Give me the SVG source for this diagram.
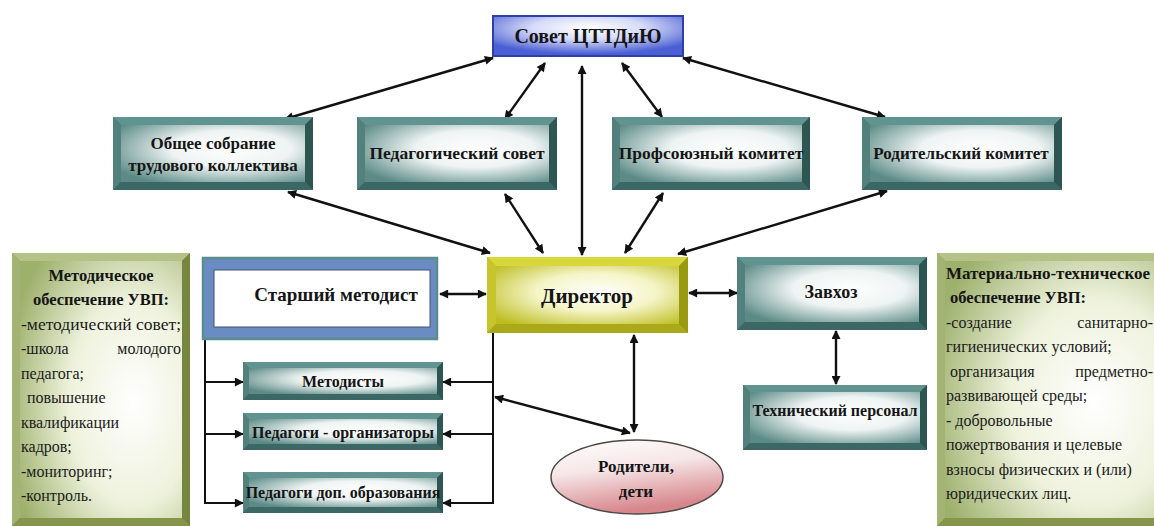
<svg xmlns="http://www.w3.org/2000/svg" width="1154" height="526" viewBox="0 0 1154 526" font-family="Liberation Serif, Tinos, DejaVu Serif, serif">
  <defs>
    <radialGradient id="gTeal" cx="60%" cy="42%" r="72%">
      <stop offset="0" stop-color="#ffffff"/>
      <stop offset="0.45" stop-color="#eef4f3"/>
      <stop offset="1" stop-color="#5c8b87"/>
    </radialGradient>
    <radialGradient id="gYellow" cx="55%" cy="45%" r="72%">
      <stop offset="0" stop-color="#ffffff"/>
      <stop offset="0.45" stop-color="#f5f5c8"/>
      <stop offset="1" stop-color="#bcbc1e"/>
    </radialGradient>
    <radialGradient id="gOlive" cx="70%" cy="55%" r="80%">
      <stop offset="0" stop-color="#ffffff"/>
      <stop offset="0.5" stop-color="#eef2dc"/>
      <stop offset="1" stop-color="#9db06c"/>
    </radialGradient>
    <radialGradient id="gBlue" cx="50%" cy="30%" r="65%">
      <stop offset="0" stop-color="#ffffff"/>
      <stop offset="0.45" stop-color="#d6dbf8"/>
      <stop offset="1" stop-color="#4a5fd4"/>
    </radialGradient>
    <linearGradient id="gPink" x1="0" y1="0" x2="0.3" y2="1">
      <stop offset="0" stop-color="#ffffff"/>
      <stop offset="0.45" stop-color="#f6e6e7"/>
      <stop offset="1" stop-color="#d7868c"/>
    </linearGradient>
    <marker id="ah" viewBox="0 0 10 10" refX="9" refY="5" markerWidth="11" markerHeight="9" markerUnits="userSpaceOnUse" orient="auto-start-reverse">
      <path d="M0,0 L10,5 L0,10 z" fill="#111"/>
    </marker>
  </defs>
  <style>
    .t-top{fill:#619490}.t-left{fill:#52807c}.t-right{fill:#2d5653}.t-bot{fill:#3b6764}.t-in{fill:url(#gTeal)}
    .y-top{fill:#d8d83c}.y-left{fill:#c6c62c}.y-right{fill:#9a9a10}.y-bot{fill:#a9a91a}.y-in{fill:url(#gYellow)}
    .o-top{fill:#b4c287}.o-left{fill:#a3b373}.o-right{fill:#76863e}.o-bot{fill:#85954c}.o-in{fill:url(#gOlive)}
    .lbl{font-weight:bold;fill:#151515;text-anchor:middle}
    .txt{fill:#1a1a1a;font-size:16px}
    .hd{font-weight:bold;fill:#151515;font-size:16.5px;text-anchor:middle}
    .arr{stroke:#111;stroke-width:2.4;fill:none;marker-start:url(#ah);marker-end:url(#ah)}
    .one{stroke:#111;stroke-width:2;fill:none;marker-end:url(#ah)}
    .ln{stroke:#111;stroke-width:2;fill:none}
  </style>
  <rect x="0" y="0" width="1154" height="526" fill="#ffffff"/>

  <g id="connectors">
    <line class="arr" x1="493" y1="58" x2="285" y2="119"/>
    <line class="arr" x1="545" y1="63" x2="505" y2="119"/>
    <line class="arr" x1="582" y1="66" x2="582" y2="255"/>
    <line class="arr" x1="622" y1="63" x2="662" y2="117"/>
    <line class="arr" x1="683" y1="58" x2="885" y2="117"/>
    <line class="arr" x1="288" y1="192" x2="490" y2="253"/>
    <line class="arr" x1="505" y1="194" x2="543" y2="253"/>
    <line class="arr" x1="663" y1="193" x2="625" y2="253"/>
    <line class="arr" x1="887" y1="191" x2="678" y2="254"/>
    <line class="arr" x1="440" y1="294" x2="486" y2="294"/>
    <line class="arr" x1="689" y1="293" x2="737" y2="293"/>
    <line class="arr" x1="836" y1="331" x2="836" y2="384"/>
    <line class="arr" x1="634" y1="335" x2="634" y2="432"/>
    <line class="arr" x1="495" y1="397" x2="630" y2="433"/>
    <polyline class="ln" points="205,340 205,503"/>
    <line class="one" x1="204" y1="382" x2="243" y2="382"/>
    <line class="one" x1="204" y1="434" x2="243" y2="434"/>
    <line class="one" x1="204" y1="503" x2="243" y2="503"/>
    <polyline class="ln" points="493,333 493,503"/>
    <line class="one" x1="494" y1="382" x2="443" y2="382"/>
    <line class="one" x1="494" y1="434" x2="443" y2="434"/>
    <line class="one" x1="494" y1="503" x2="443" y2="503"/>
  </g>

  <g id="sovet">
    <rect x="493" y="16" width="190" height="40" fill="url(#gBlue)" stroke="#2c40a8" stroke-width="2"/>
    <text class="lbl" x="588" y="43" font-size="20">Совет ЦТТДиЮ</text>
  </g>

  <g id="obshee">
    <rect x="113" y="117" width="200" height="73" fill="#3b6764"/>
    <polygon class="t-top" points="113,117 313,117 305,125 121,125"/>
    <polygon class="t-left" points="113,117 121,125 121,182 113,190"/>
    <polygon class="t-right" points="313,117 313,190 305,182 305,125"/>
    <polygon class="t-bot" points="113,190 121,182 305,182 313,190"/>
    <rect class="t-in" x="121" y="125" width="184" height="57"/>
    <text class="lbl" x="213" y="149" font-size="17">Общее собрание</text>
    <text class="lbl" x="213" y="171" font-size="17">трудового коллектива</text>
  </g>

  <g id="pedsovet">
    <rect x="357" y="117" width="200" height="73" fill="#3b6764"/>
    <polygon class="t-top" points="357,117 557,117 549,125 365,125"/>
    <polygon class="t-left" points="357,117 365,125 365,182 357,190"/>
    <polygon class="t-right" points="557,117 557,190 549,182 549,125"/>
    <polygon class="t-bot" points="357,190 365,182 549,182 557,190"/>
    <rect class="t-in" x="365" y="125" width="184" height="57"/>
    <text class="lbl" x="457" y="159" font-size="17.5">Педагогический совет</text>
  </g>

  <g id="profkom">
    <rect x="612" y="117" width="198" height="73" fill="#3b6764"/>
    <polygon class="t-top" points="612,117 810,117 802,125 620,125"/>
    <polygon class="t-left" points="612,117 620,125 620,182 612,190"/>
    <polygon class="t-right" points="810,117 810,190 802,182 802,125"/>
    <polygon class="t-bot" points="612,190 620,182 802,182 810,190"/>
    <rect class="t-in" x="620" y="125" width="182" height="57"/>
    <text class="lbl" x="711" y="159" font-size="17.5">Профсоюзный комитет</text>
  </g>

  <g id="rodkom">
    <rect x="862" y="117" width="200" height="73" fill="#3b6764"/>
    <polygon class="t-top" points="862,117 1062,117 1054,125 870,125"/>
    <polygon class="t-left" points="862,117 870,125 870,182 862,190"/>
    <polygon class="t-right" points="1062,117 1062,190 1054,182 1054,125"/>
    <polygon class="t-bot" points="862,190 870,182 1054,182 1062,190"/>
    <rect class="t-in" x="870" y="125" width="184" height="57"/>
    <text class="lbl" x="961" y="159" font-size="17">Родительский комитет</text>
  </g>

  <g id="st-metodist">
    <rect x="203" y="258" width="234" height="81" fill="#6b8cc2" stroke="#5b8d8b" stroke-width="2.5"/>
    <rect x="214" y="270" width="216" height="57" fill="#ffffff" stroke="#3d5577" stroke-width="1"/>
    <text class="lbl" x="336" y="301" font-size="19">Старший методист</text>
  </g>

  <g id="direktor">
    <rect x="487" y="257" width="201" height="76" fill="#a9a91a"/>
    <polygon class="y-top" points="487,257 688,257 679,266 496,266"/>
    <polygon class="y-left" points="487,257 496,266 496,324 487,333"/>
    <polygon class="y-right" points="688,257 688,333 679,324 679,266"/>
    <polygon class="y-bot" points="487,333 496,324 679,324 688,333"/>
    <rect class="y-in" x="496" y="266" width="183" height="58"/>
    <text class="lbl" x="587" y="303" font-size="21">Директор</text>
  </g>

  <g id="zavhoz">
    <rect x="737" y="257" width="190" height="73" fill="#3b6764"/>
    <polygon class="t-top" points="737,257 927,257 919,265 745,265"/>
    <polygon class="t-left" points="737,257 745,265 745,322 737,330"/>
    <polygon class="t-right" points="927,257 927,330 919,322 919,265"/>
    <polygon class="t-bot" points="737,330 745,322 919,322 927,330"/>
    <rect class="t-in" x="745" y="265" width="174" height="57"/>
    <text class="lbl" x="831" y="298" font-size="18" font-weight="normal">Завхоз</text>
  </g>

  <g id="metodisty">
    <rect x="243" y="362" width="200" height="38" fill="#3b6764"/>
    <polygon class="t-top" points="243,362 443,362 437,368 249,368"/>
    <polygon class="t-left" points="243,362 249,368 249,394 243,400"/>
    <polygon class="t-right" points="443,362 443,400 437,394 437,368"/>
    <polygon class="t-bot" points="243,400 249,394 437,394 443,400"/>
    <rect class="t-in" x="249" y="368" width="188" height="26"/>
    <text class="lbl" x="343" y="387" font-size="16">Методисты</text>
  </g>

  <g id="ped-org">
    <rect x="243" y="413" width="200" height="37" fill="#3b6764"/>
    <polygon class="t-top" points="243,413 443,413 437,419 249,419"/>
    <polygon class="t-left" points="243,413 249,419 249,444 243,450"/>
    <polygon class="t-right" points="443,413 443,450 437,444 437,419"/>
    <polygon class="t-bot" points="243,450 249,444 437,444 443,450"/>
    <rect class="t-in" x="249" y="419" width="188" height="25"/>
    <text class="lbl" x="343" y="438" font-size="16">Педагоги - организаторы</text>
  </g>

  <g id="ped-dop">
    <rect x="243" y="472" width="200" height="41" fill="#3b6764"/>
    <polygon class="t-top" points="243,472 443,472 437,478 249,478"/>
    <polygon class="t-left" points="243,472 249,478 249,507 243,513"/>
    <polygon class="t-right" points="443,472 443,513 437,507 437,478"/>
    <polygon class="t-bot" points="243,513 249,507 437,507 443,513"/>
    <rect class="t-in" x="249" y="478" width="188" height="29"/>
    <text class="lbl" x="343" y="498" font-size="16">Педагоги доп. образования</text>
  </g>

  <g id="tech">
    <rect x="743" y="385" width="184" height="65" fill="#3b6764"/>
    <polygon class="t-top" points="743,385 927,385 920,392 750,392"/>
    <polygon class="t-left" points="743,385 750,392 750,443 743,450"/>
    <polygon class="t-right" points="927,385 927,450 920,443 920,392"/>
    <polygon class="t-bot" points="743,450 750,443 920,443 927,450"/>
    <rect class="t-in" x="750" y="392" width="170" height="51"/>
    <text class="lbl" x="835" y="416" font-size="16">Технический персонал</text>
  </g>

  <g id="roditeli">
    <ellipse cx="637" cy="477" rx="86" ry="37" fill="url(#gPink)" stroke="#4a4a4a" stroke-width="1.5"/>
    <text class="lbl" x="636" y="472" font-size="17">Родители,</text>
    <text class="lbl" x="636" y="497" font-size="17">дети</text>
  </g>

  <g id="metod-obesp">
    <rect x="12" y="253" width="178" height="273" fill="#85954c"/>
    <polygon class="o-top" points="12,253 190,253 182,261 20,261"/>
    <polygon class="o-left" points="12,253 20,261 20,518 12,526"/>
    <polygon class="o-right" points="190,253 190,526 182,518 182,261"/>
    <polygon class="o-bot" points="12,526 20,518 182,518 190,526"/>
    <rect class="o-in" x="20" y="261" width="162" height="257"/>
    <text class="hd" x="101" y="281">Методическое</text>
    <text class="hd" x="101" y="305">обеспечение УВП:</text>
    <text class="txt" x="21" y="330" textLength="160" lengthAdjust="spacingAndGlyphs">-методический совет;</text>
    <text class="txt" x="21" y="354">-школа</text>
    <text class="txt" x="181" y="354" text-anchor="end">молодого</text>
    <text class="txt" x="21" y="379">педагога;</text>
    <text class="txt" x="27" y="403">повышение</text>
    <text class="txt" x="21" y="428">квалификации</text>
    <text class="txt" x="21" y="452">кадров;</text>
    <text class="txt" x="21" y="477">-мониторинг;</text>
    <text class="txt" x="21" y="501">-контроль.</text>
  </g>

  <g id="mat-obesp">
    <rect x="937" y="253" width="230" height="273" fill="#85954c"/>
    <polygon class="o-top" points="937,253 1167,253 1159,261 945,261"/>
    <polygon class="o-left" points="937,253 945,261 945,518 937,526"/>
    <polygon class="o-right" points="1167,253 1167,526 1159,518 1159,261"/>
    <polygon class="o-bot" points="937,526 945,518 1159,518 1167,526"/>
    <rect class="o-in" x="945" y="261" width="214" height="257"/>
    <text class="hd" x="1048" y="279" textLength="204" lengthAdjust="spacingAndGlyphs">Материально-техническое</text>
    <text class="hd" x="1018" y="303">обеспечение УВП:</text>
    <text class="txt" x="946" y="328">-создание</text>
    <text class="txt" x="1153" y="328" text-anchor="end">санитарно-</text>
    <text class="txt" x="946" y="352">гигиенических условий;</text>
    <text class="txt" x="950" y="377">организация</text>
    <text class="txt" x="1153" y="377" text-anchor="end">предметно-</text>
    <text class="txt" x="946" y="401">развивающей среды;</text>
    <text class="txt" x="946" y="426">- добровольные</text>
    <text class="txt" x="946" y="450">пожертвования и целевые</text>
    <text class="txt" x="946" y="475">взносы физических и (или)</text>
    <text class="txt" x="946" y="499">юридических лиц.</text>
  </g>
</svg>
